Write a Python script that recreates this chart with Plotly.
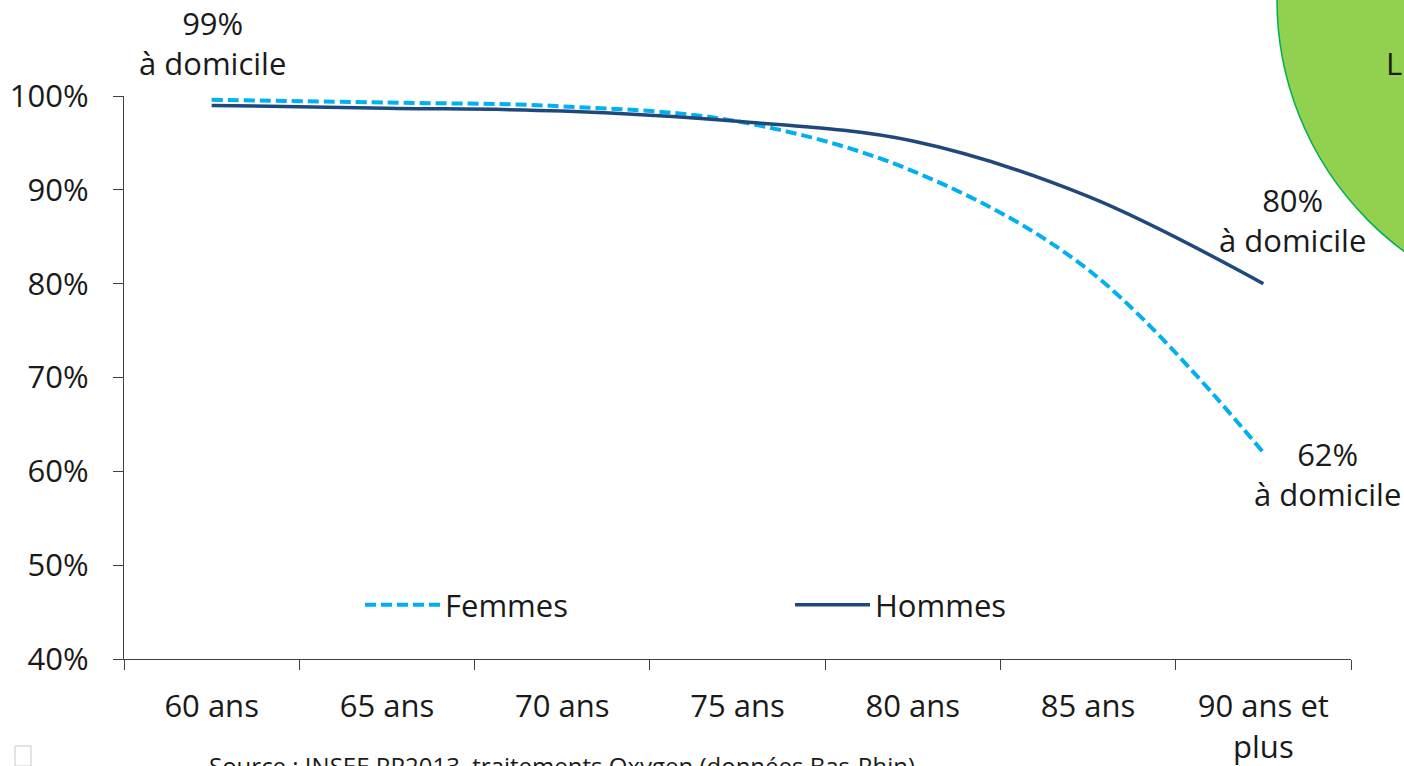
import plotly.graph_objects as go

categories = ["60 ans", "65 ans", "70 ans", "75 ans", "80 ans", "85 ans", "90 ans et<br>plus"]
femmes = [0.996, 0.993, 0.989, 0.973, 0.920, 0.815, 0.62]
hommes = [0.990, 0.987, 0.984, 0.973, 0.952, 0.893, 0.80]
y_ticks = [0.4, 0.5, 0.6, 0.7, 0.8, 0.9, 1.0]

W, H = 1404, 766
L, R, T, B = 124, 1351, 96, 659
pw, ph = R - L, B - T

def px(x):
    return (x - L) / pw

def py(y):
    return (B - y) / ph

FONT = "Open Sans"
TXT = "#1a1a1a"
FS = 31

fig = go.Figure()
fig.add_trace(go.Scatter(
    x=categories, y=femmes, name="Femmes", mode="lines",
    line=dict(color="#00B0F0", width=4, dash="11px,5px", shape="spline", smoothing=1.0),
))
fig.add_trace(go.Scatter(
    x=categories, y=hommes, name="Hommes", mode="lines",
    line=dict(color="#1F497D", width=3.5, shape="spline", smoothing=1.0),
))

labels = [
    ("99%<br>à domicile", 212, 43),
    ("80%<br>à domicile", 1292, 220),
    ("62%<br>à domicile", 1327, 474),
]
ann = []
for text, x, y in labels:
    ann.append(dict(text=text, x=px(x), y=py(y), xref="paper", yref="paper",
                    showarrow=False, font=dict(family=FONT, size=FS, color=TXT),
                    align="center", xanchor="center", yanchor="middle"))

ann.append(dict(text="Source : INSEE RP2013, traitements Oxygen (données Bas-Rhin)",
                x=px(207), y=py(765), xref="paper", yref="paper", showarrow=False,
                xanchor="left", yanchor="middle", font=dict(family=FONT, size=24, color=TXT)))
ann.append(dict(text="L", x=px(1384), y=py(63), xref="paper", yref="paper", showarrow=False,
                xanchor="left", yanchor="middle", font=dict(family=FONT, size=FS, color=TXT)))

shapes = [
    dict(type="circle", xref="paper", yref="paper", layer="below",
         x0=px(1277), x1=px(1901), y0=py(312), y1=py(-312),
         fillcolor="#92D050", line=dict(color="#00B050", width=1.5)),
    dict(type="rect", xref="paper", yref="paper",
         x0=px(15), x1=px(31), y0=py(766), y1=py(746),
         fillcolor="white", line=dict(color="#c8c8c8", width=1)),
]

fig.update_layout(
    width=W, height=H,
    margin=dict(l=L, r=W - R, t=T, b=H - B, autoexpand=False),
    paper_bgcolor="white", plot_bgcolor="rgba(0,0,0,0)",
    font=dict(family=FONT, size=FS, color=TXT),
    showlegend=True,
    legend=dict(orientation="h", x=px(360), y=py(605), xanchor="left", yanchor="middle",
                bgcolor="rgba(0,0,0,0)", font=dict(family=FONT, size=FS, color=TXT),
                entrywidth=340, itemwidth=75),
    xaxis=dict(type="category", range=[-0.5, 6.5], showgrid=False, zeroline=False,
               automargin=False,
               showline=True, linecolor="#404040", linewidth=1.3,
               ticks="outside", ticklen=10, tickcolor="#404040", tickwidth=1.3,
               tickson="boundaries", ticklabelstandoff=20,
               tickfont=dict(family=FONT, size=FS, color=TXT)),
    yaxis=dict(range=[0.4, 1.0], tickvals=y_ticks, tickformat=".0%", showgrid=False,
               automargin=False,
               zeroline=False, showline=True, linecolor="#404040", linewidth=1.3,
               ticks="outside", ticklen=10, tickcolor="#404040", tickwidth=1.3,
               ticklabelstandoff=18,
               tickfont=dict(family=FONT, size=FS, color=TXT)),
    annotations=ann, shapes=shapes,
)

fig.write_html("out.html", config={"displayModeBar": False},
               post_script="document.body.style.margin='0';document.body.style.overflow='hidden';")
